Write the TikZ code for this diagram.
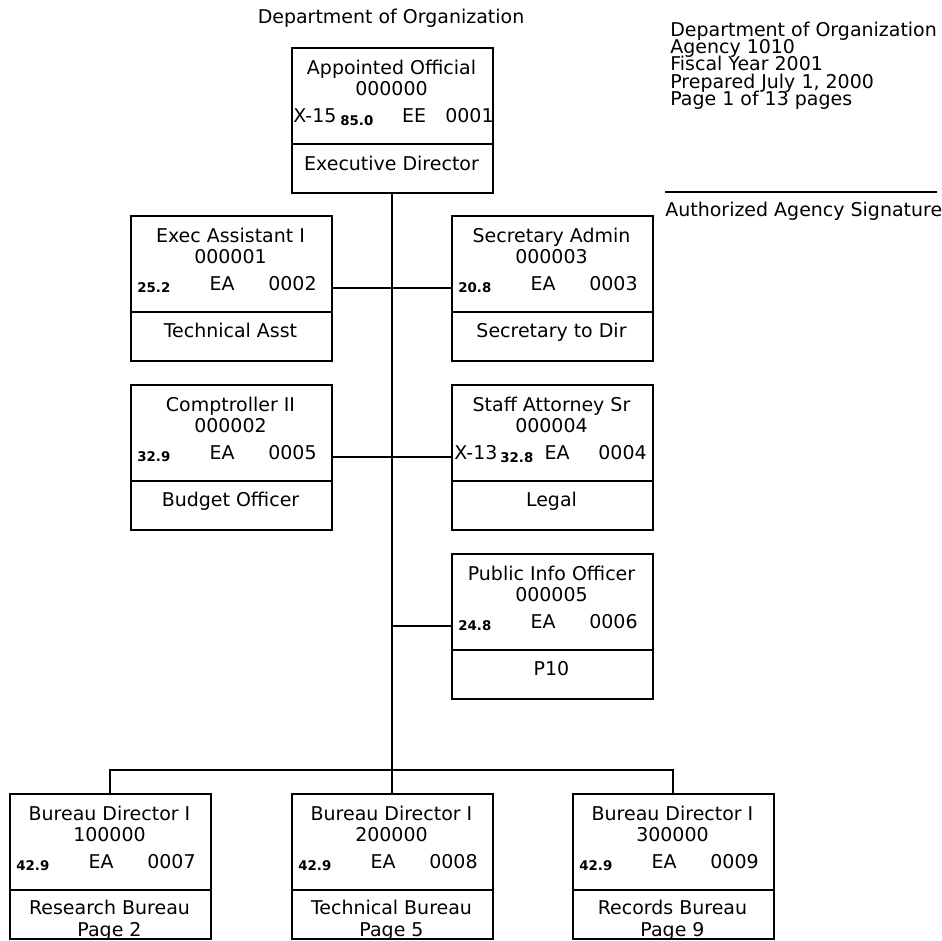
\documentclass[tikz,border=0pt]{standalone}
\usepackage{fontspec}
\setmainfont{DejaVu Sans}
\usepackage{tikz}
\usepackage{xcolor}

\begin{document}
\begin{tikzpicture}[x=0.02cm, y=-0.02cm,
	posbox/.style={draw, line width=1.1pt, minimum width=4.02cm, minimum height=2.9cm, anchor=north west, inner sep=0pt},
	txt/.style={anchor=base, inner sep=0pt, font=\fontsize{10.8}{12}\selectfont},
	lefttxt/.style={anchor=base west, inner sep=0pt, font=\fontsize{10.8}{12}\selectfont},
	num/.style={anchor=base west, inner sep=0pt, font=\fontsize{7.6}{8}\selectfont\bfseries},
	link/.style={line width=1.1pt}]
				\useasboundingbox (0,0) rectangle (942,940);
				
				% Headings
				\node[txt] (title) at (391,23) {Department of Organization};
				\node[lefttxt] (head1) at (670,36) {Department of Organization};
				\node[lefttxt] (head2) at (670,53) {Agency 1010};
				\node[lefttxt] (head3) at (670,70) {Fiscal Year 2001};
				\node[lefttxt] (head4) at (670,88) {Prepared July 1, 2000};
				\node[lefttxt] (head5) at (670,105) {Page 1 of 13 pages};
				\draw[link] (665,192) -- (937,192);
				\node[lefttxt] (sign) at (665,216) {Authorized Agency Signature};
				
				% Boxes
				\node[posbox] (appt) at (291,47) {};
				\node[posbox] (exec) at (130,215) {};
				\node[posbox] (secy) at (451,215) {};
				\node[posbox] (comp) at (130,384) {};
				\node[posbox] (atty) at (451,384) {};
				\node[posbox] (pio) at (451,553) {};
				\node[posbox] (resb) at (9,793) {};
				\node[posbox] (tech) at (291,793) {};
				\node[posbox] (recb) at (572,793) {};
				
				% Dividers
				\draw[link] ([yshift=-1.94cm]appt.north west) -- ([yshift=-1.94cm]appt.north east);
				\draw[link] ([yshift=-1.94cm]exec.north west) -- ([yshift=-1.94cm]exec.north east);
				\draw[link] ([yshift=-1.94cm]secy.north west) -- ([yshift=-1.94cm]secy.north east);
				\draw[link] ([yshift=-1.94cm]comp.north west) -- ([yshift=-1.94cm]comp.north east);
				\draw[link] ([yshift=-1.94cm]atty.north west) -- ([yshift=-1.94cm]atty.north east);
				\draw[link] ([yshift=-1.94cm]pio.north west) -- ([yshift=-1.94cm]pio.north east);
				\draw[link] ([yshift=-1.94cm]resb.north west) -- ([yshift=-1.94cm]resb.north east);
				\draw[link] ([yshift=-1.94cm]tech.north west) -- ([yshift=-1.94cm]tech.north east);
				\draw[link] ([yshift=-1.94cm]recb.north west) -- ([yshift=-1.94cm]recb.north east);
				
				% Appointed Official
				\node[txt] (appt1) at (391.5,74) {Appointed Official};
				\node[txt] (appt2) at (391.5,95) {000000};
				\node[lefttxt] (appt3) at (293,122) {X-15};
				\node[num] (appt4) at (340,125) {85.0};
				\node[txt] (appt5) at (414,122) {EE};
				\node[lefttxt] (appt6) at (445,122) {0001};
				\node[txt] (appt7) at (391.5,170) {Executive Director};
				
				% Exec Assistant
				\node[txt] (exec1) at (230.5,242) {Exec Assistant I};
				\node[txt] (exec2) at (230.5,263) {000001};
				\node[num] (exec3) at (137,292) {25.2};
				\node[txt] (exec4) at (222,290) {EA};
				\node[lefttxt] (exec5) at (268,290) {0002};
				\node[txt] (exec6) at (230.5,337) {Technical Asst};
				
				% Secretary Admin
				\node[txt] (secy1) at (551.5,242) {Secretary Admin};
				\node[txt] (secy2) at (551.5,263) {000003};
				\node[num] (secy3) at (458,292) {20.8};
				\node[txt] (secy4) at (543,290) {EA};
				\node[lefttxt] (secy5) at (589,290) {0003};
				\node[txt] (secy6) at (551.5,337) {Secretary to Dir};
				
				% Comptroller
				\node[txt] (comp1) at (230.5,411) {Comptroller II};
				\node[txt] (comp2) at (230.5,432) {000002};
				\node[num] (comp3) at (137,461) {32.9};
				\node[txt] (comp4) at (222,459) {EA};
				\node[lefttxt] (comp5) at (268,459) {0005};
				\node[txt] (comp6) at (230.5,506) {Budget Officer};
				
				% Staff Attorney
				\node[txt] (atty1) at (551.5,411) {Staff Attorney Sr};
				\node[txt] (atty2) at (551.5,432) {000004};
				\node[lefttxt] (atty3) at (454,459) {X-13};
				\node[num] (atty4) at (500,462) {32.8};
				\node[txt] (atty5) at (557,459) {EA};
				\node[lefttxt] (atty6) at (598,459) {0004};
				\node[txt] (atty7) at (551.5,506) {Legal};
				
				% Public Info
				\node[txt] (pio1) at (551.5,580) {Public Info Officer};
				\node[txt] (pio2) at (551.5,601) {000005};
				\node[num] (pio3) at (458,630) {24.8};
				\node[txt] (pio4) at (543,628) {EA};
				\node[lefttxt] (pio5) at (589,628) {0006};
				\node[txt] (pio6) at (551.5,675) {P10};
				
				% Bureaus
				\node[txt] (resb1) at (109.5,820) {Bureau Director I};
				\node[txt] (resb2) at (109.5,841) {100000};
				\node[num] (resb3) at (16,870) {42.9};
				\node[txt] (resb4) at (101,868) {EA};
				\node[lefttxt] (resb5) at (147,868) {0007};
				\node[txt] (resb6) at (109.5,914) {Research Bureau};
				\node[txt] (resb7) at (109.5,936) {Page 2};
				
				\node[txt] (tech1) at (391.5,820) {Bureau Director I};
				\node[txt] (tech2) at (391.5,841) {200000};
				\node[num] (tech3) at (298,870) {42.9};
				\node[txt] (tech4) at (383,868) {EA};
				\node[lefttxt] (tech5) at (429,868) {0008};
				\node[txt] (tech6) at (391.5,914) {Technical Bureau};
				\node[txt] (tech7) at (391.5,936) {Page 5};
				
				\node[txt] (recb1) at (672.5,820) {Bureau Director I};
				\node[txt] (recb2) at (672.5,841) {300000};
				\node[num] (recb3) at (579,870) {42.9};
				\node[txt] (recb4) at (664,868) {EA};
				\node[lefttxt] (recb5) at (710,868) {0009};
				\node[txt] (recb6) at (672.5,914) {Records Bureau};
				\node[txt] (recb7) at (672.5,936) {Page 9};
				
				% Connectors
				\draw[link] (appt.south) -- (tech.north);
				\draw[link] (exec.east) -- (secy.west);
				\draw[link] (comp.east) -- (atty.west);
				\draw[link] (pio.west -| appt.south) -- (pio.west);
				\draw[link] (resb.north) -- ++(0,-23) -| (recb.north);
			\end{tikzpicture}
\end{document}
